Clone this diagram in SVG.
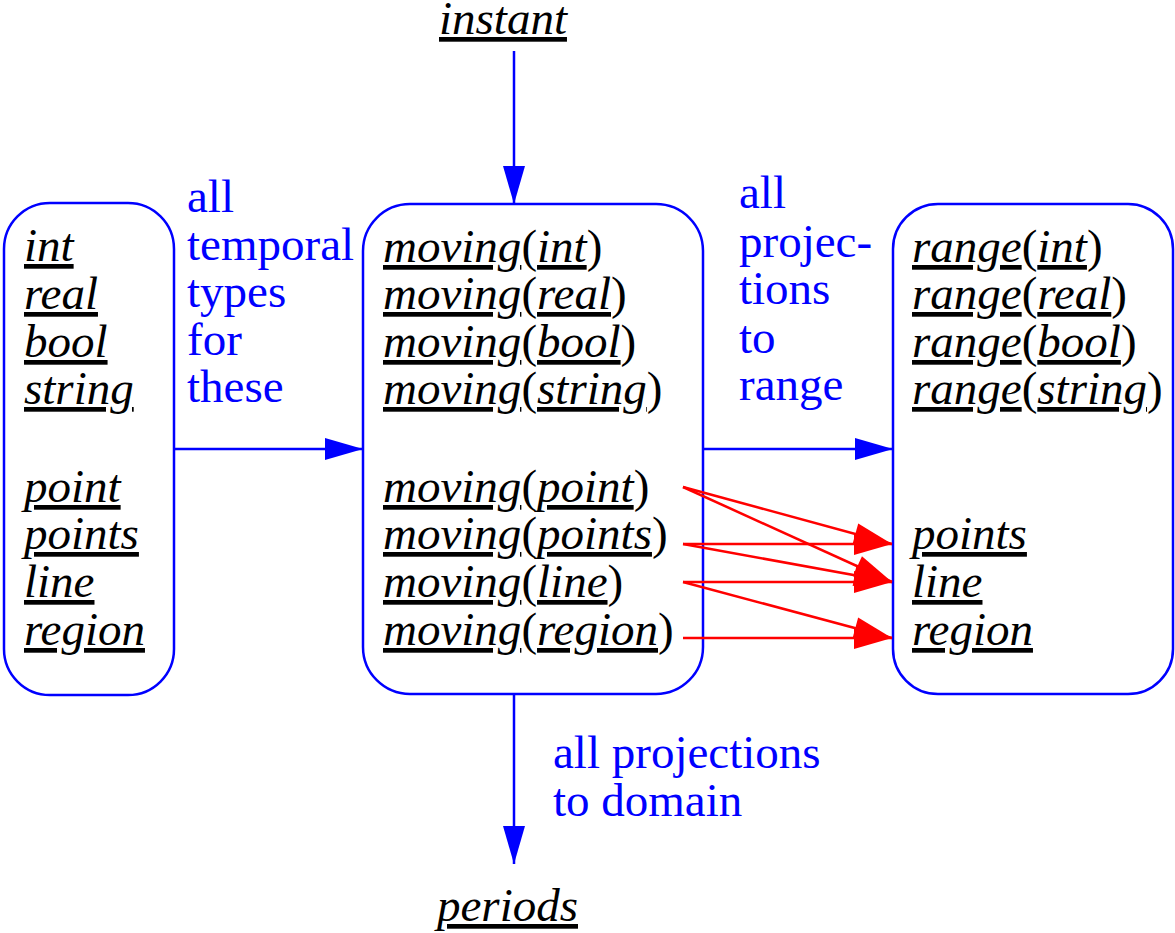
<svg xmlns="http://www.w3.org/2000/svg" width="1175" height="933" viewBox="0 0 1175 933">
  <style>
    text { font-family: "Liberation Serif", "Times New Roman", serif; font-size: 47px; }
    .t { fill: #000; font-style: italic; }
    .u { text-decoration: underline; }
    .p { font-style: normal; }
    .lbl { fill: #0000ff; }
    .box { fill: #fff; stroke: #0000ff; stroke-width: 2.5; }
    .blue { stroke: #0000ff; stroke-width: 2.5; fill: none; marker-end: url(#headBlue); }
    .red { stroke: #ff0000; stroke-width: 2.5; fill: none; marker-end: url(#headRed); }
  </style>
  <defs>
    <marker id="headBlue" markerUnits="userSpaceOnUse" markerWidth="40" markerHeight="24" refX="38" refY="11" orient="auto" overflow="visible">
      <path d="M0,0 L38,11 L0,22 z" fill="#0000ff"/>
    </marker>
    <marker id="headRed" markerUnits="userSpaceOnUse" markerWidth="40" markerHeight="24" refX="38" refY="11" orient="auto" overflow="visible">
      <path d="M0,0 L38,11 L0,22 z" fill="#ff0000"/>
    </marker>
  </defs>
  <rect width="1175" height="933" fill="#fff"/>

  <!-- base types -->
  <g id="base-types">
    <rect class="box" x="4" y="203" width="170" height="492" rx="46" ry="46"/>
    <text class="t" x="24"><tspan class="u" x="24" y="261">int</tspan><tspan class="u" x="24" y="309">real</tspan><tspan class="u" x="24" y="357">bool</tspan><tspan class="u" x="24" y="404">string</tspan><tspan class="u" x="24" y="502">point</tspan><tspan class="u" x="24" y="549">points</tspan><tspan class="u" x="24" y="597">line</tspan><tspan class="u" x="24" y="645">region</tspan></text>
  </g>

  <!-- temporal types -->
  <g id="moving-types">
    <rect class="box" x="363" y="204" width="340" height="490" rx="47" ry="47"/>
    <text class="t" x="383" y="262"><tspan class="u">moving</tspan><tspan class="p">(</tspan><tspan class="u">int</tspan><tspan class="p">)</tspan></text>
    <text class="t" x="383" y="309"><tspan class="u">moving</tspan><tspan class="p">(</tspan><tspan class="u">real</tspan><tspan class="p">)</tspan></text>
    <text class="t" x="383" y="357"><tspan class="u">moving</tspan><tspan class="p">(</tspan><tspan class="u">bool</tspan><tspan class="p">)</tspan></text>
    <text class="t" x="383" y="404"><tspan class="u">moving</tspan><tspan class="p">(</tspan><tspan class="u">string</tspan><tspan class="p">)</tspan></text>
    <text class="t" x="383" y="502"><tspan class="u">moving</tspan><tspan class="p">(</tspan><tspan class="u">point</tspan><tspan class="p">)</tspan></text>
    <text class="t" x="383" y="549"><tspan class="u">moving</tspan><tspan class="p">(</tspan><tspan class="u">points</tspan><tspan class="p">)</tspan></text>
    <text class="t" x="383" y="597"><tspan class="u">moving</tspan><tspan class="p">(</tspan><tspan class="u">line</tspan><tspan class="p">)</tspan></text>
    <text class="t" x="383" y="645"><tspan class="u">moving</tspan><tspan class="p">(</tspan><tspan class="u">region</tspan><tspan class="p">)</tspan></text>
  </g>

  <!-- range types -->
  <g id="range-types">
    <rect class="box" x="893" y="204" width="280" height="490" rx="45" ry="45"/>
    <text class="t" x="912" y="262"><tspan class="u">range</tspan><tspan class="p">(</tspan><tspan class="u">int</tspan><tspan class="p">)</tspan></text>
    <text class="t" x="912" y="309"><tspan class="u">range</tspan><tspan class="p">(</tspan><tspan class="u">real</tspan><tspan class="p">)</tspan></text>
    <text class="t" x="912" y="357"><tspan class="u">range</tspan><tspan class="p">(</tspan><tspan class="u">bool</tspan><tspan class="p">)</tspan></text>
    <text class="t" x="912" y="404"><tspan class="u">range</tspan><tspan class="p">(</tspan><tspan class="u">string</tspan><tspan class="p">)</tspan></text>
    <text class="t" x="912" y="549"><tspan class="u">points</tspan></text>
    <text class="t" x="912" y="597"><tspan class="u">line</tspan></text>
    <text class="t" x="912" y="645"><tspan class="u">region</tspan></text>
  </g>

  <g id="instant">
    <text class="t" x="439" y="34"><tspan class="u">instant</tspan></text>
  </g>

  <g id="periods">
    <text class="t" x="437" y="921"><tspan class="u">periods</tspan></text>
  </g>

  <!-- connectors -->
  <g id="connectors">
    <line class="blue" x1="514" y1="51" x2="514" y2="204"/>
    <line class="blue" x1="174" y1="449" x2="363" y2="449"/>
    <line class="blue" x1="703" y1="449" x2="893" y2="449"/>
    <line class="blue" x1="514" y1="694" x2="514" y2="864"/>

    <line class="red" x1="683" y1="487" x2="892" y2="544"/>
    <line class="red" x1="683" y1="487" x2="892" y2="582"/>
    <line class="red" x1="683" y1="544" x2="892" y2="544"/>
    <line class="red" x1="683" y1="544" x2="892" y2="582"/>
    <line class="red" x1="683" y1="582" x2="892" y2="582"/>
    <line class="red" x1="683" y1="582" x2="892" y2="638"/>
    <line class="red" x1="683" y1="638" x2="892" y2="638"/>
  </g>

  <!-- connector labels -->
  <g id="label-temporal" class="lbl">
    <text class="lbl" x="187" y="212">all</text>
    <text class="lbl" x="187" y="260">temporal</text>
    <text class="lbl" x="187" y="307">types</text>
    <text class="lbl" x="187" y="355">for</text>
    <text class="lbl" x="187" y="402">these</text>
  </g>
  <g id="label-range">
    <text class="lbl" x="739" y="208">all</text>
    <text class="lbl" x="739" y="257">projec-</text>
    <text class="lbl" x="739" y="304">tions</text>
    <text class="lbl" x="739" y="353">to</text>
    <text class="lbl" x="739" y="400">range</text>
  </g>
  <g id="label-domain">
    <text class="lbl" x="553" y="768">all projections</text>
    <text class="lbl" x="553" y="816">to domain</text>
  </g>
</svg>
